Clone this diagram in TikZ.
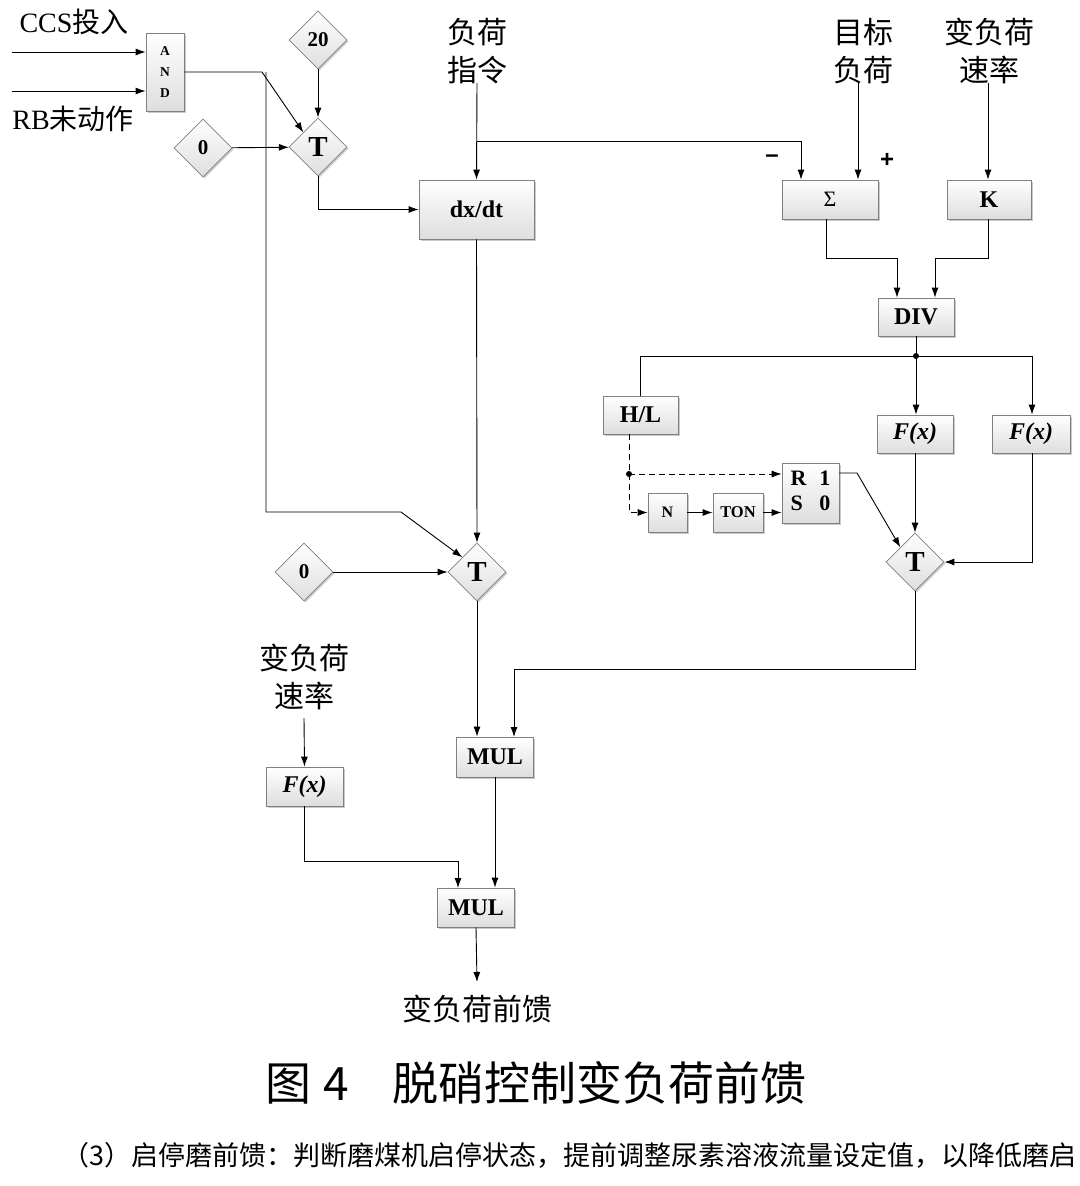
\documentclass[tikz,border=0pt]{standalone}
\usepackage{fontspec}
\setmainfont{Liberation Serif}
\newfontfamily\cjk{Noto Sans CJK SC}
\newfontfamily\sansf{Liberation Sans}
\usetikzlibrary{shapes.geometric,arrows.meta,shadows}
\begin{document}
\begin{tikzpicture}[x=1pt,y=-1pt,
  line width=0.9pt,
  arr/.style={-{Latex[length=10pt,width=7pt]}},
  dsh/.style={dash pattern=on 6pt off 4pt, line width=0.8pt},
  boxbase/.style={draw=black!50, line width=0.8pt, top color=white, bottom color=black!13,
    drop shadow={shadow xshift=1.5pt, shadow yshift=-1.5pt, fill=black!35, opacity=0.6},
    inner sep=0pt, font=\fontsize{24}{28}\selectfont\bfseries},
  blk/.style={boxbase, rectangle},
  dia/.style={boxbase, diamond, minimum width=58pt, minimum height=58pt},
  lbl/.style={font=\fontsize{30}{38}\selectfont\cjk, align=center, inner sep=0pt},
  dot/.style={circle, fill=black, inner sep=0pt, minimum size=6pt}
]
\useasboundingbox (0,0) rectangle (1079,1186);

% ---------- blocks ----------
\node[blk, minimum width=38pt, minimum height=78pt, align=center,
      font=\fontsize{13.5}{21}\selectfont\bfseries] (and) at (165,72) {A\\N\\D};
\node[dia, font=\fontsize{21}{24}\selectfont\bfseries] (d20) at (318,40) {20};
\node[dia, font=\fontsize{29}{30}\selectfont\bfseries] (t1) at (318,147) {T};
\node[dia, font=\fontsize{21}{24}\selectfont\bfseries] (d0a) at (203,148) {0};
\node[blk, minimum width=115pt, minimum height=59pt] (dxdt) at (476.5,209.5) {dx/dt};
\node[blk, minimum width=96pt, minimum height=39pt, font=\fontsize{22}{24}\selectfont] (sig) at (830,199.5) {Σ};
\node[blk, minimum width=84pt, minimum height=39pt] (k) at (989,199.5) {K};
\node[blk, minimum width=76pt, minimum height=38pt] (div) at (916,317) {DIV};
\node[blk, minimum width=75pt, minimum height=38pt] (hl) at (640.5,415) {H/L};
\node[blk, minimum width=76pt, minimum height=38pt] (f1) at (915,434) {\itshape F(x)};
\node[blk, minimum width=78pt, minimum height=38pt] (f2) at (1031,434) {\itshape F(x)};
\node[blk, minimum width=39pt, minimum height=39pt, font=\fontsize{16}{18}\selectfont\bfseries] (n) at (667.5,512.5) {N};
\node[blk, minimum width=50pt, minimum height=39pt, font=\fontsize{16.5}{18}\selectfont\bfseries] (ton) at (738,512.5) {TON};
\node[blk, minimum width=57pt, minimum height=60pt, font=\fontsize{22}{26}\selectfont\bfseries] (rs) at (810.5,493)
  {\begin{tabular}{@{}l@{\hspace{13pt}}r@{}}R&1\\[-1pt]S&0\end{tabular}};
\node[dia, font=\fontsize{29}{30}\selectfont\bfseries] (t3) at (915,562) {T};
\node[dia, font=\fontsize{29}{30}\selectfont\bfseries] (t2) at (477,572) {T};
\node[dia, font=\fontsize{21}{24}\selectfont\bfseries] (d0b) at (304,572) {0};
\node[blk, minimum width=77pt, minimum height=40pt] (mul1) at (495,757) {MUL};
\node[blk, minimum width=77pt, minimum height=39pt] (f3) at (304.5,786.5) {\itshape F(x)};
\node[blk, minimum width=77pt, minimum height=39pt] (mul2) at (476,907.5) {MUL};

% ---------- labels ----------
\node[lbl, font=\fontsize{28}{38}\selectfont] (lccs) at (74,22) {CCS{\cjk 投入}};
\node[lbl, font=\fontsize{28}{38}\selectfont] (lrb) at (73,119) {RB{\cjk 未动作}};
\node[lbl] (lload) at (477,51) {负荷\\指令};
\node[lbl] (ltarget) at (863,51) {目标\\负荷};
\node[lbl] (lrate) at (989,51) {变负荷\\速率};
\node[lbl] (lrate2) at (304,677) {变负荷\\速率};
\node[lbl] (lout) at (477,1009) {变负荷前馈};
\node[font=\fontsize{24}{24}\selectfont\sansf\bfseries, inner sep=0pt] (lminus) at (772,159) {–};
\node[font=\fontsize{24}{24}\selectfont\sansf\bfseries, inner sep=0pt] (lplus) at (887,160) {+};
\node[font=\fontsize{46}{48}\selectfont\cjk, inner sep=0pt, anchor=west] (cap) at (265,1083)
  {图\hspace{12pt}4\hspace{44pt}脱硝控制变负荷前馈};
\node[font=\fontsize{27}{30}\selectfont\cjk, inner sep=0pt, anchor=west] (para) at (62,1155)
  {（3）启停磨前馈：判断磨煤机启停状态，提前调整尿素溶液流量设定值，以降低磨启};

% ---------- coordinates ----------
\coordinate (ccsin) at (12,52);
\coordinate (rbin) at (12,91);
\coordinate (jand) at (262,72);
\coordinate (vtop) at (266,72);
\coordinate (vbot) at (266,512);
\coordinate (vturn) at (401,512);
\coordinate (loadin) at (477,83);
\coordinate (loadbr) at (477,141);
\coordinate (tgtin) at (858,83);
\coordinate (ratein) at (988,83);
\coordinate (rate2in) at (304,718);
\coordinate (bus) at (916,356);
\coordinate (hldot) at (629,474);
\coordinate (rsturn) at (857,473);
\coordinate (outend) at (477,982);

% ---------- connectors ----------
\draw[arr] (ccsin) -- (ccsin -| and.west);
\draw[arr] (rbin) -- (rbin -| and.west);
\draw[arr] (and.east |- jand) -- (jand) -- (t1.north west);
\draw[arr] (vtop) -- (vbot) -- (vturn) -- (t2.north west);
\draw[arr] (d20) -- (t1);
\draw[arr] (d0a) -- (t1);
\draw[arr] (t1.south) |- (dxdt.west);
\draw[arr] (loadin) -- (dxdt.north);
\draw[arr] (loadbr) -| ([xshift=-29pt]sig.north);
\draw[arr] (tgtin) -- (tgtin |- sig.north);
\draw[arr] (ratein) -- (ratein |- k.north);
\draw[arr] ([xshift=-4pt]sig.south) |- (897,258) -- ([xshift=-19pt]div.north);
\draw[arr] ([xshift=-1pt]k.south) |- (935,258) -- ([xshift=19pt]div.north);
\draw (div.south) -- (bus);
\draw (bus) -| (hl.north);
\draw[arr] (bus) -- (bus |- f1.north);
\draw[arr] (bus) -| ([xshift=1pt]f2.north);
\node[dot] (busdot) at (bus) {};
\draw[dsh] (hldot |- hl.south) -- (hldot);
\draw[arr, dsh] (hldot) -- (hldot -| rs.west);
\draw[arr, dsh] (hldot) |- (n.west);
\node[dot] (hldotn) at (hldot) {};
\draw[arr] (n) -- (ton);
\draw[arr] (ton.east) -- (ton.east -| rs.west);
\draw[arr] (rsturn -| rs.east) -- (rsturn) -- (t3.north west);
\draw[arr] (f1.south) -- (t3.north);
\draw[arr] ([xshift=1pt]f2.south) |- (t3.east);
\draw[arr] (dxdt.south) -- (t2.north);
\draw[arr] (d0b) -- (t2);
\draw[arr] (t2.south) -- (t2.south |- mul1.north);
\draw[arr] (t3.south) |- (514,669) -- (514,737);
\draw[arr] (rate2in) -- (f3.north);
\draw[arr] (f3.south) |- (458,861) -- (458,888);
\draw[arr] (mul1.south) -- (mul1.south |- mul2.north);
\draw[arr] (mul2.south) -- (outend);
\end{tikzpicture}
\end{document}
